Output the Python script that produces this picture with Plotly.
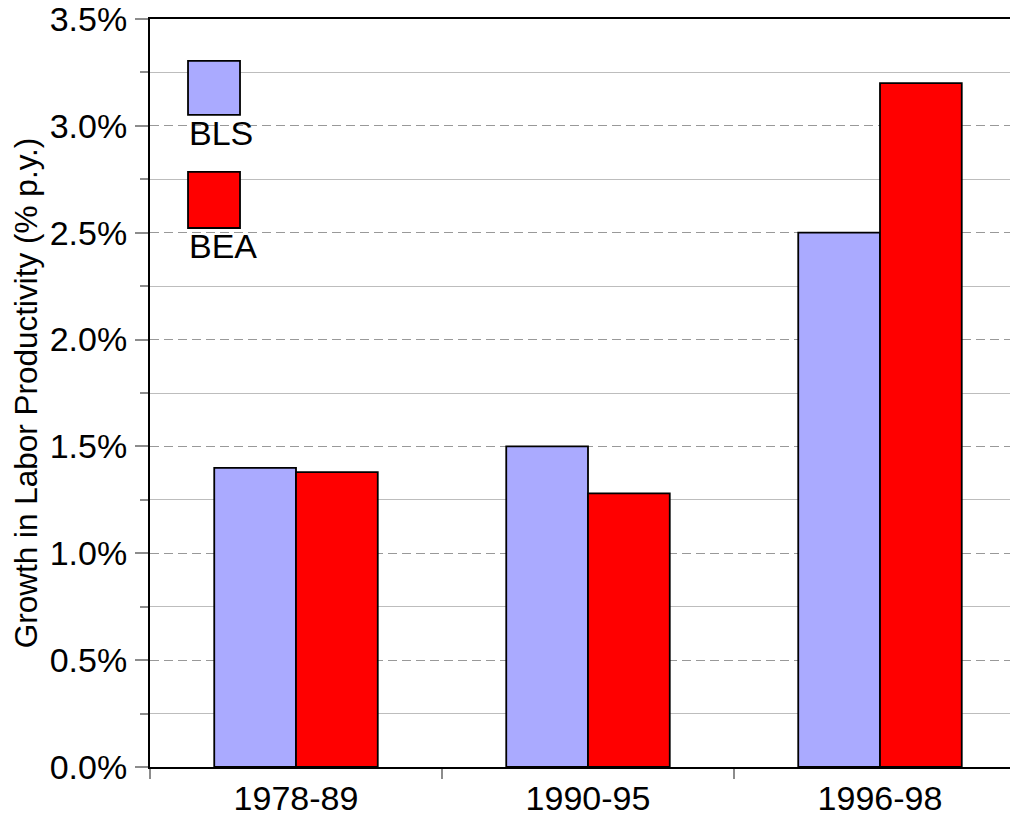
import plotly.graph_objects as go

categories = ["1978-89", "1990-95", "1996-98"]
series_names = ["BLS", "BEA"]
bls_values = [1.40, 1.50, 2.50]
bea_values = [1.38, 1.28, 3.20]
series_colors = ["#aaaaff", "#ff0000"]
y_title = "Growth in Labor Productivity (% p.y.)"

FONT = "Liberation Sans, Arial, sans-serif"
TICK_GRAY = "#8c8c8c"

fig = go.Figure()
for name, vals, col in zip(series_names, [bls_values, bea_values], series_colors):
    fig.add_trace(go.Bar(
        x=categories, y=vals, name=name, marker_color=col,
        marker_line_color="#000000", marker_line_width=1.8,
        showlegend=False,
    ))

y_range = [0, 3.5]
x_range = [-0.5, 2.4726]

fig.update_layout(
    width=1010, height=809,
    margin=dict(l=142, r=0, t=11, b=50, autoexpand=False),
    paper_bgcolor="white", plot_bgcolor="white",
    barmode="group", bargap=0.44, bargroupgap=0,
    font=dict(family=FONT, color="black"),
    xaxis=dict(
        type="category", range=x_range, tickson="boundaries",
        ticks="outside", ticklen=10, tickwidth=1.5, tickcolor=TICK_GRAY,
        showline=True, linecolor="black", linewidth=2, mirror=True,
        showgrid=False, tickfont=dict(size=34), zeroline=False,
        ticklabeloverflow="allow", automargin=False,
    ),
    xaxis2=dict(
        overlaying="x", anchor="y", side="bottom", type="linear",
        range=x_range, tickvals=[-0.5, 0.5, 1.5, 2.5],
        ticks="inside", ticklen=12, tickwidth=1.5, tickcolor=TICK_GRAY,
        showticklabels=False, showgrid=False, showline=False, zeroline=False,
        automargin=False,
    ),
    yaxis=dict(
        range=y_range, dtick=0.5, tick0=0, tickformat=".1f", ticksuffix="%",
        ticks="outside", ticklen=13, tickwidth=1.5, tickcolor=TICK_GRAY,
        showline=True, linecolor="black", linewidth=2,
        showgrid=True, gridcolor="#999999", gridwidth=1.3, griddash="9px,5px",
        zeroline=False, tickfont=dict(size=34), ticklabelstandoff=1,
        ticklabeloverflow="allow", automargin=False,
        title=dict(text=y_title, font=dict(size=31.5), standoff=10),
        minor=dict(dtick=0.25, tick0=0, ticks="outside", ticklen=8,
                   tickwidth=1.5, tickcolor=TICK_GRAY,
                   showgrid=True, gridcolor="#bdbdbd", gridwidth=1.3,
                   griddash="solid"),
    ),
    yaxis2=dict(
        overlaying="y", anchor="x", side="left", range=y_range,
        dtick=0.5, tick0=0, ticks="inside", ticklen=13, tickwidth=1.5,
        tickcolor=TICK_GRAY, showticklabels=False, showgrid=False,
        showline=False, zeroline=False, automargin=False,
        minor=dict(dtick=0.25, tick0=0, ticks="inside", ticklen=8,
                   tickwidth=1.5, tickcolor=TICK_GRAY, showgrid=False),
    ),
)

# custom legend: swatch above label
legend_boxes = [(0.9439, 0.8717), (0.7955, 0.7206)]
legend_text_y = [0.8476, 0.697]
for name, col, (y1, y0), ty in zip(series_names, series_colors, legend_boxes, legend_text_y):
    fig.add_shape(type="rect", xref="paper", yref="paper",
                  x0=0.0438, x1=0.1037, y0=y0, y1=y1,
                  fillcolor=col, line=dict(color="black", width=1.8))
    fig.add_annotation(xref="paper", yref="paper", x=0.043, y=ty,
                       xanchor="left", yanchor="middle", text=name,
                       showarrow=False, font=dict(size=34, family=FONT))

fig.write_html("out.html")
